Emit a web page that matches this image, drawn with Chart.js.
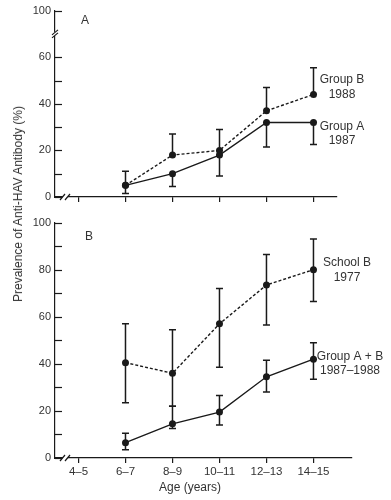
<!DOCTYPE html>
<html>
<head>
<meta charset="utf-8">
<script src="https://cdn.jsdelivr.net/npm/chart.js@4/dist/chart.umd.min.js"></script>
<style>
    body { margin: 0; background: #fff; }
    #wrap { position: relative; width: 391px; height: 500px; }
    canvas { position: absolute; left: 0; }
    #yTitle {
        position: absolute; left: 18px; top: 204px;
        transform: translate(-50%, -50%) rotate(-90deg);
        font: 12px "Liberation Sans", Arial, sans-serif; color: #333; white-space: nowrap;
    }
</style>
</head>
<body>
<div id="wrap">
    <canvas id="topChart" width="391" height="215" style="top:0"></canvas>
    <canvas id="bottomChart" width="391" height="288" style="top:212px"></canvas>
    <div id="yTitle">Prevalence of Anti-HAV Antibody (%)</div>
</div>
<script>
// Age groups on the x axis
const ageGroups = ['4–5', '6–7', '8–9', '10–11', '12–13', '14–15'];

// Panel A
const groupB1988 = [null, 5, 18, 20, 37, 44];
const groupB1988High = [null, 11, 27, 29, 47, 55.5];
const groupA1987 = [null, 5, 10, 18, 32, 32];
const groupA1987Low = [null, 1.5, 4.5, 9, 21.5, 22.5];

// Panel B
const schoolB1977 = [null, 40.5, 36, 57, 73.5, 80];
const schoolB1977High = [null, 57, 54.5, 72, 86.5, 93];
const schoolB1977Low = [null, 23.5, 22, 38.5, 56.5, 66.5];
const groupAB = [null, 6.5, 14.5, 19.5, 34.5, 42];
const groupABHigh = [null, 10.5, 22, 26.5, 41.5, 49];
const groupABLow = [null, 3.5, 12.5, 14, 28, 33.5];

// Tick values for the y axes (top panel is broken: 80 is shown as 100)
const topYTicks = [0, 10, 20, 30, 40, 50, 60, 80];
const bottomYTicks = [0, 10, 20, 30, 40, 50, 60, 70, 80, 90, 100];

const ink = '#1a1a1a';
const textColor = '#333';
const fontFamily = '"Liberation Sans", Arial, sans-serif';

function toPoints(values) {
    return values.map((v, i) => ({ x: i, y: v }));
}

// Draw error bars stored on each dataset (errLow / errHigh)
const errorBars = {
    id: 'errorBars',
    afterDatasetsDraw(chart) {
        const ctx = chart.ctx;
        const xs = chart.scales.x, ys = chart.scales.y;
        ctx.save();
        ctx.strokeStyle = ink;
        ctx.lineWidth = 1.5;
        chart.data.datasets.forEach(ds => {
            const vals = ds.values;
            vals.forEach((v, i) => {
                if (v === null) return;
                const lo = ds.errLow ? ds.errLow[i] : v;
                const hi = ds.errHigh ? ds.errHigh[i] : v;
                const px = xs.getPixelForValue(i);
                const pLo = ys.getPixelForValue(lo);
                const pHi = ys.getPixelForValue(hi);
                ctx.beginPath();
                ctx.moveTo(px, pLo);
                ctx.lineTo(px, pHi);
                if (lo !== v) { ctx.moveTo(px - 3.5, pLo); ctx.lineTo(px + 3.5, pLo); }
                if (hi !== v) { ctx.moveTo(px - 3.5, pHi); ctx.lineTo(px + 3.5, pHi); }
                ctx.stroke();
            });
        });
        ctx.restore();
    }
};

// Inward y ticks, axis breaks and free text labels
const axisMarks = {
    id: 'axisMarks',
    afterDraw(chart, args, opts) {
        const ctx = chart.ctx;
        const xs = chart.scales.x, ys = chart.scales.y;
        const area = chart.chartArea;
        ctx.save();
        ctx.strokeStyle = ink;
        ctx.lineWidth = 1.2;

        // y ticks pointing into the plot
        ys.ticks.forEach(t => {
            const py = Math.round(ys.getPixelForValue(t.value)) + 0.5;
            ctx.beginPath();
            ctx.moveTo(area.left, py);
            ctx.lineTo(area.left + 7, py);
            ctx.stroke();
        });

        // break on the x axis
        const by = area.bottom;
        ctx.fillStyle = '#fff';
        ctx.fillRect(63, by - 2, 5, 4);
        ctx.beginPath();
        ctx.moveTo(60, by + 3); ctx.lineTo(65, by - 3);
        ctx.moveTo(65, by + 3); ctx.lineTo(70, by - 3);
        ctx.stroke();

        // break on the y axis
        if (opts.yBreak !== undefined) {
            const py = ys.getPixelForValue(opts.yBreak);
            const ax = area.left;
            ctx.fillRect(ax - 2, py - 2, 4, 4);
            ctx.beginPath();
            ctx.moveTo(ax - 3, py + 1); ctx.lineTo(ax + 3, py - 4);
            ctx.moveTo(ax - 3, py + 4); ctx.lineTo(ax + 3, py - 1);
            ctx.stroke();
        }

        // text labels
        ctx.fillStyle = textColor;
        ctx.textAlign = 'center';
        ctx.textBaseline = 'middle';
        (opts.labels || []).forEach(l => {
            ctx.font = (l.size || 12) + 'px ' + fontFamily;
            ctx.fillText(l.text, l.x, l.y);
        });
        ctx.restore();
    }
};

function makeOptions(cfg) {
    return {
        responsive: false,
        animation: false,
        devicePixelRatio: 1,
        layout: { padding: { left: 0, top: cfg.padTop, right: cfg.padRight, bottom: 0 } },
        plugins: {
            legend: { display: false },
            tooltip: { enabled: false },
            axisMarks: { labels: cfg.labels, yBreak: cfg.yBreak }
        },
        scales: {
            x: {
                type: 'linear',
                min: -0.5,
                max: cfg.xMax,
                afterBuildTicks: s => { s.ticks = ageGroups.map((_, i) => ({ value: i })); },
                afterFit: s => { s.height = cfg.xHeight; },
                grid: { drawOnChartArea: false, drawTicks: true, tickLength: 5, color: ink, lineWidth: 1.2 },
                border: { display: true, color: ink, width: 1.2 },
                ticks: {
                    display: cfg.showXLabels,
                    padding: 2,
                    color: textColor,
                    font: { size: 11.5, family: fontFamily },
                    maxRotation: 0,
                    autoSkip: false,
                    callback: v => ageGroups[v]
                }
            },
            y: {
                min: 0,
                max: cfg.yMax,
                afterBuildTicks: s => { s.ticks = cfg.yTicks.map(v => ({ value: v })); },
                afterFit: s => { s.width = 55; },
                grid: { drawOnChartArea: false, drawTicks: false },
                border: { display: true, color: ink, width: 1.2 },
                ticks: {
                    padding: 4,
                    color: textColor,
                    font: { size: 11, family: fontFamily },
                    autoSkip: false,
                    callback: cfg.yLabel
                }
            }
        }
    };
}

function lineDataset(label, values, dashed, errLow, errHigh) {
    return {
        label: label,
        data: toPoints(values),
        values: values,
        errLow: errLow,
        errHigh: errHigh,
        borderColor: ink,
        backgroundColor: ink,
        borderWidth: 1.4,
        borderDash: dashed ? [3, 2] : [],
        pointRadius: 3.5,
        pointBorderWidth: 0,
        pointBackgroundColor: ink,
        tension: 0
    };
}

new Chart(document.getElementById('topChart'), {
    type: 'line',
    data: {
        datasets: [
            lineDataset('Group A 1987', groupA1987, false, groupA1987Low, null),
            lineDataset('Group B 1988', groupB1988, true, null, groupB1988High)
        ]
    },
    options: makeOptions({
        padTop: 8, padRight: 54, xMax: 5.5, xHeight: 18, showXLabels: false,
        yMax: 80, yTicks: topYTicks, yBreak: 70,
        yLabel: v => v === 80 ? '100' : (v % 20 === 0 ? v : ''),
        labels: [
            { text: 'A', x: 85, y: 21 },
            { text: 'Group B', x: 342, y: 80 },
            { text: '1988', x: 342, y: 95 },
            { text: 'Group A', x: 342, y: 127 },
            { text: '1987', x: 342, y: 141 }
        ]
    }),
    plugins: [errorBars, axisMarks]
});

new Chart(document.getElementById('bottomChart'), {
    type: 'line',
    data: {
        datasets: [
            lineDataset('School B 1977', schoolB1977, true, schoolB1977Low, schoolB1977High),
            lineDataset('Group A + B 1987–1988', groupAB, false, groupABLow, groupABHigh)
        ]
    },
    options: makeOptions({
        padTop: 10, padRight: 39, xMax: 5.82, xHeight: 42, showXLabels: true,
        yMax: 100, yTicks: bottomYTicks,
        yLabel: v => v % 20 === 0 ? v : '',
        labels: [
            { text: 'B', x: 89, y: 25 },
            { text: 'School B', x: 347, y: 51 },
            { text: '1977', x: 347, y: 66 },
            { text: 'Group A + B', x: 350, y: 145 },
            { text: '1987–1988', x: 350, y: 159 },
            { text: 'Age (years)', x: 190, y: 276 }
        ]
    }),
    plugins: [errorBars, axisMarks]
});
</script>
</body>
</html>
